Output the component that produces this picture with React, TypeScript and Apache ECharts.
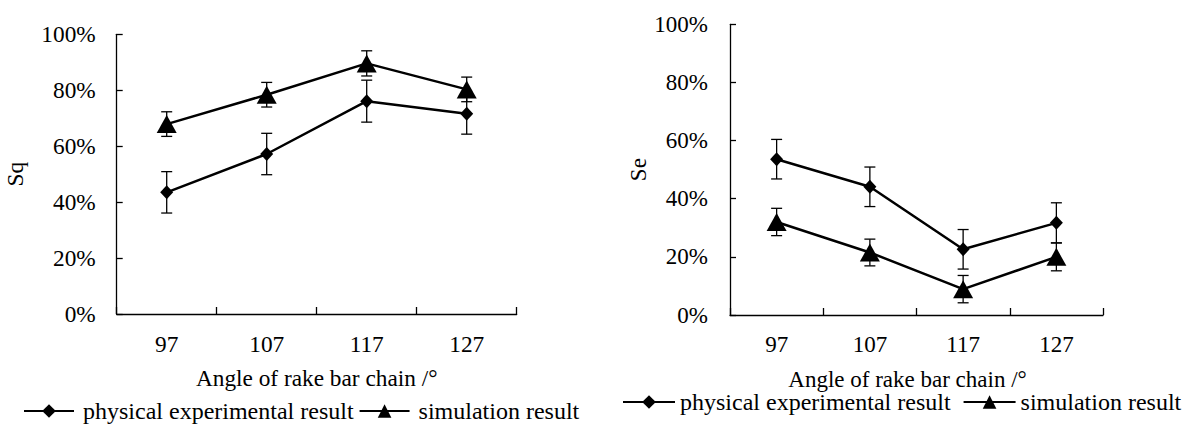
import React, { useEffect, useRef } from 'react';
import * as echarts from 'echarts';

const categories = ['97', '107', '117', '127'];
const yTickValues = [0, 20, 40, 60, 80, 100];

const sqPhysical = [43.5, 57.2, 76.1, 71.6];
const sqPhysicalErr = [7.4, 7.4, 7.5, 7.3];
const sqSimulation = [67.9, 78.4, 89.6, 80.3];
const sqSimulationErr = [4.4, 4.4, 4.5, 4.4];

const sePhysical = [53.6, 44.1, 22.6, 31.7];
const sePhysicalErr = [6.8, 6.8, 6.8, 6.9];
const seSimulation = [32.0, 21.5, 8.9, 20.0];
const seSimulationErr = [4.7, 4.6, 4.7, 4.8];

const physName = 'physical experimental result';
const simName = 'simulation result';
const FONT = '"Liberation Serif", "Times New Roman", serif';

const errorRender = (params: any, api: any) => {
  const x = api.value(0);
  const lo = api.coord([x, api.value(1)]);
  const hi = api.coord([x, api.value(2)]);
  const half = 5.5;
  const style = { stroke: '#000', lineWidth: 1.3, fill: null };
  return {
    type: 'group',
    children: [
      { type: 'line', shape: { x1: hi[0], y1: hi[1], x2: lo[0], y2: lo[1] }, style },
      { type: 'line', shape: { x1: hi[0] - half, y1: hi[1], x2: hi[0] + half, y2: hi[1] }, style },
      { type: 'line', shape: { x1: lo[0] - half, y1: lo[1], x2: lo[0] + half, y2: lo[1] }, style },
    ],
  };
};

const errData = (vals: number[], errs: number[]) => vals.map((v, i) => [i, v - errs[i], v + errs[i]]);

const makeXAxis = (gridIndex: number, fs: number, shift: number) => ({
  type: 'category',
  gridIndex,
  data: categories,
  boundaryGap: true,
  axisLine: { lineStyle: { color: '#000', width: 1.3 } },
  axisTick: { show: true, inside: true, length: 7, alignWithLabel: false, lineStyle: { color: '#000', width: 1.3 } },
  axisLabel: { color: '#000', fontFamily: FONT, fontSize: fs, margin: 18 },
  name: 'Angle of rake bar chain /°',
  nameLocation: 'middle',
  nameGap: 54,
  nameTextStyle: { color: '#000', fontFamily: FONT, fontSize: fs, lineHeight: 20, padding: [0, shift, 0, 0] },
  splitLine: { show: false },
});

const makeYAxis = (gridIndex: number, fs: number, name: string, gap: number, margin: number) => ({
  type: 'value',
  gridIndex,
  min: yTickValues[0],
  max: yTickValues[yTickValues.length - 1],
  interval: yTickValues[1] - yTickValues[0],
  axisLine: { show: true, lineStyle: { color: '#000', width: 1.3 } },
  axisTick: { show: true, inside: true, length: 6, lineStyle: { color: '#000', width: 1.3 } },
  axisLabel: { color: '#000', fontFamily: FONT, fontSize: fs, margin, formatter: '{value}%' },
  splitLine: { show: false },
  name,
  nameLocation: 'middle',
  nameGap: gap,
  nameRotate: 90,
  nameTextStyle: { color: '#000', fontFamily: FONT, fontSize: fs },
});

const lineSeries = (name: string, data: number[], idx: number, symbol: string, size: any) => ({
  type: 'line',
  name,
  xAxisIndex: idx,
  yAxisIndex: idx,
  data,
  symbol,
  symbolSize: size,
  showSymbol: true,
  lineStyle: { color: '#000', width: 2.5 },
  itemStyle: { color: '#000' },
  z: 3,
});

const errSeries = (vals: number[], errs: number[], idx: number) => ({
  type: 'custom',
  name: 'err',
  xAxisIndex: idx,
  yAxisIndex: idx,
  data: errData(vals, errs),
  encode: { x: 0, y: [1, 2] },
  renderItem: errorRender,
  z: 4,
});

export default function App() {
  const ref = useRef<HTMLDivElement>(null);
  useEffect(() => {
    if (!ref.current) return;
    const chart = echarts.init(ref.current, null, { renderer: 'svg' });
    const diamond = [13, 14];
    const tri = [20, 18];
    chart.setOption({
      animation: false,
      backgroundColor: '#fff',
      textStyle: { fontFamily: FONT, color: '#000' },
      grid: [
        { left: 116.7, top: 34.3, width: 400, height: 279.7 },
        { left: 730, top: 24.3, width: 373, height: 290.7 },
      ],
      xAxis: [makeXAxis(0, 23.3, 0), makeXAxis(1, 23, 18)],
      yAxis: [makeYAxis(0, 23.3, 'Sq', 90, 21), makeYAxis(1, 23, 'Se', 80, 22)],
      legend: [
        {
          left: 23, top: 399, width: 600, padding: 0, itemWidth: 50, itemHeight: 17, itemGap: 5,
          data: [physName, simName],
          textStyle: { color: '#000', fontFamily: FONT, fontSize: 24, lineHeight: 20, padding: [0, 0, 0, 4] },
        },
        {
          left: 622, top: 390, width: 600, padding: 0, itemWidth: 52, itemHeight: 17, itemGap: 12,
          data: [physName, simName],
          textStyle: { color: '#000', fontFamily: FONT, fontSize: 24, lineHeight: 20, padding: [0, 0, 0, 0] },
        },
      ],
      series: [
        lineSeries(physName, sqPhysical, 0, 'diamond', diamond),
        lineSeries(simName, sqSimulation, 0, 'triangle', tri),
        errSeries(sqPhysical, sqPhysicalErr, 0),
        errSeries(sqSimulation, sqSimulationErr, 0),
        lineSeries(physName, sePhysical, 1, 'diamond', diamond),
        lineSeries(simName, seSimulation, 1, 'triangle', tri),
        errSeries(sePhysical, sePhysicalErr, 1),
        errSeries(seSimulation, seSimulationErr, 1),
      ],
    });
    return () => chart.dispose();
  }, []);
  return <div ref={ref} style={{ position: 'fixed', left: 0, top: 0, width: 1182, height: 424 }} />;
}
